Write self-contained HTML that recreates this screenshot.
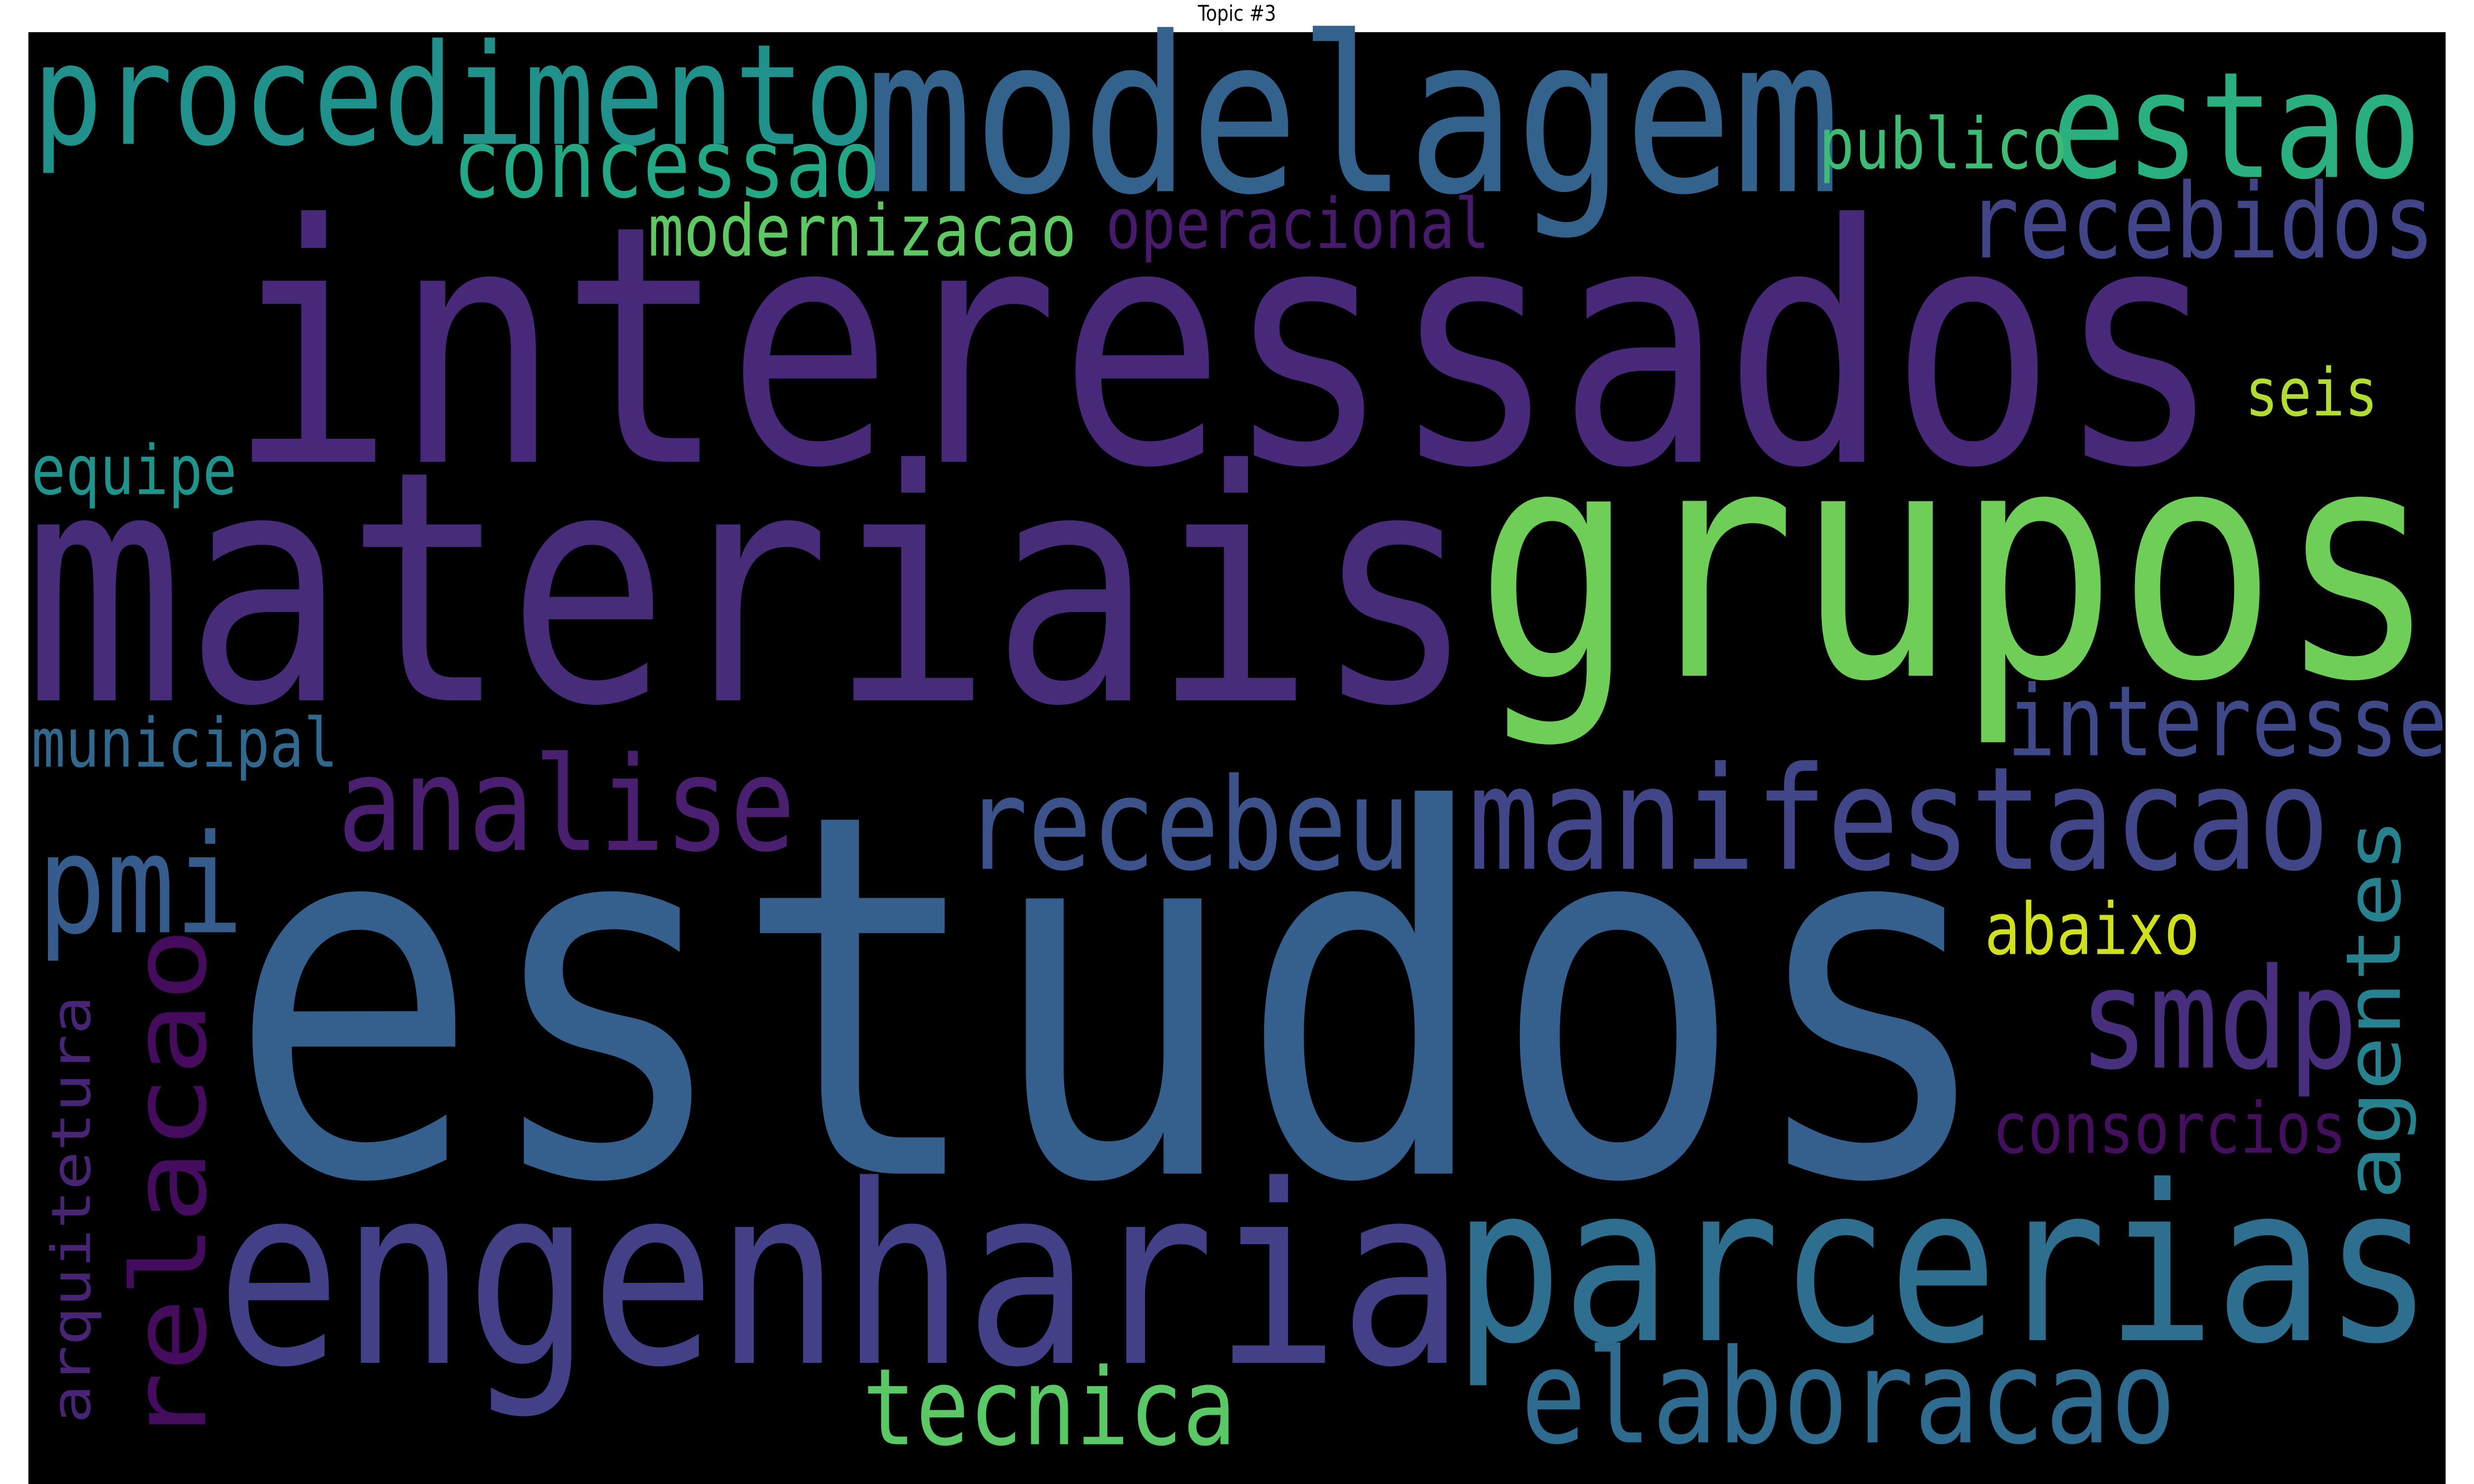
<!DOCTYPE html>
<html><head><meta charset="utf-8">
<style>
html,body{margin:0;padding:0;background:#fff;width:100%;height:100%;overflow:hidden;}
svg{display:block;position:absolute;left:0;top:0;width:100vw;height:100vh;}
</style></head><body>
<svg id="chart" xmlns="http://www.w3.org/2000/svg" viewBox="0 0 1568 784" preserveAspectRatio="none">
<rect x="0" y="0" width="1568" height="784" fill="#fff"/>
<text x="784" y="11" text-anchor="middle" font-family="'DejaVu Sans','Liberation Sans',sans-serif" font-size="11.5" fill="#000">Topic #3</text>
<rect x="18" y="17" width="1532" height="767" fill="#000"/>
<g id="words"></g>
</svg>
<script>
const words = ["interessados","materiais","grupos","estudos","engenharia","parcerias","modelagem","procedimento","estao","concessao","publico","modernizacao","operacional","recebidos","seis","equipe","interesse","municipal","analise","pmi","recebeu","manifestacao","smdp","abaixo","consorcios","tecnica","elaboracao","agentes","relacao","arquitetura"];
const colors = ["#482878","#472c7a","#6ece58","#355f8d","#424086","#2e6e8e","#33638d","#21918c","#2ab07f","#22a884","#3dbc74","#5ec962","#481a6c","#414487","#b0dd2f","#1f948c","#3f4889","#31688e","#4b1f6f","#365c8d","#3b528b","#404688","#472f7d","#d0e11c","#440f5e","#5ac864","#2f6b8e","#26828e","#450b5d","#482475"];
// layout: [x1, x2 (or y-bottom,y-top for vertical), baseline, vertical]
const layout = [
 [155,1398,244,0],[25,925,370,0],[945,1535,357,0],[160,1250,620,0],[145,920,720,0],[928,1535,708,0],
 [555,1160,101,0],[25,550,76,0],[1305,1530,93.5,0],[290,555,104,0],[1155,1308,89,0],[413,680,135,0],
 [703,942,131,0],[1250,1540,136,0],[1425,1505,219.5,0],[22,148,261,0],[1275,1548,399,0],[22,212,405,0],
 [218,500,449,0],[28,150,492.5,0],[615,890,459,0],[935,1472,459,0],[1322,1490,564,0],[1260,1392,504,0],
 [1265,1485,609,0],[550,780,763,0],[968,1375,762,0],[631,435,1521,1],[760,494,130,1],[750,528,57,1]
];
const g = document.getElementById('words');
const NS = "http://www.w3.org/2000/svg";
words.forEach((w, i) => {
  const [a, b, base, vert] = layout[i];
  const n = w.length;
  const span = Math.abs(b - a);
  const fs = span / (n * 0.602 - 0.12);
  const tl = n * 0.602 * fs;
  const t = document.createElementNS(NS, 'text');
  t.textContent = w;
  t.setAttribute('font-family', "'DejaVu Sans Mono','Liberation Mono',monospace");
  t.setAttribute('font-size', fs.toFixed(2));
  t.setAttribute('fill', colors[i]);
  t.setAttribute('textLength', tl.toFixed(2));
  t.setAttribute('lengthAdjust', 'spacingAndGlyphs');
  if (vert) {
    t.setAttribute('x', 0); t.setAttribute('y', 0);
    t.setAttribute('transform', `translate(${base},${a + 0.06 * fs}) rotate(-90)`);
  } else {
    t.setAttribute('x', (a - 0.06 * fs).toFixed(2));
    t.setAttribute('y', base);
  }
  
  
  g.appendChild(t);
});
</script>
</body></html>
